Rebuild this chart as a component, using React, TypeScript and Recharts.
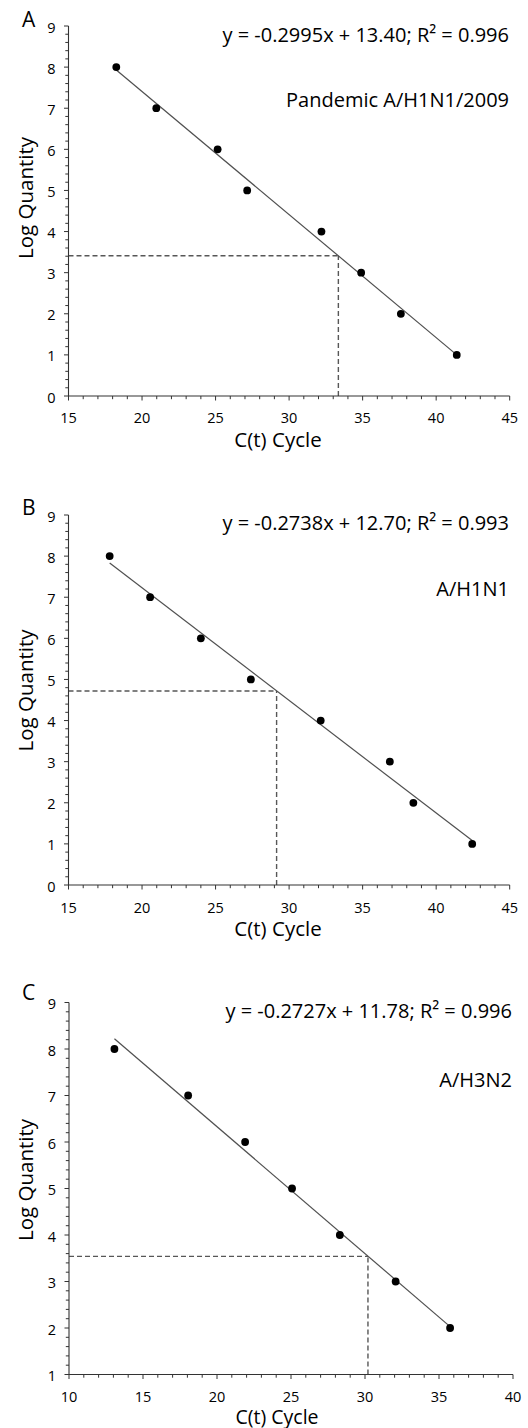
import React from 'react';
import { ScatterChart, Scatter, XAxis, YAxis, ReferenceLine } from 'recharts';

// ---------- DATA ----------
// Panel A: Pandemic A/H1N1/2009
const ctA = [18.25, 20.97, 25.14, 27.15, 32.2, 34.9, 37.6, 41.4];
const logQA = [8, 7, 6, 5, 4, 3, 2, 1];
const fitXA = [18.25, 41.4];
const fitYA = [7.93, 1.0];
const unknownA = [33.35, 3.41]; // [ct, logQ]

// Panel B: A/H1N1
const ctB = [17.8, 20.55, 24.0, 27.4, 32.15, 36.85, 38.45, 42.45];
const logQB = [8, 7, 6, 5, 4, 3, 2, 1];
const fitXB = [17.8, 42.45];
const fitYB = [7.83, 1.08];
const unknownB = [29.15, 4.72];

// Panel C: A/H3N2
const ctC = [13.07, 18.05, 21.9, 25.07, 28.3, 32.07, 35.75];
const logQC = [8, 7, 6, 5, 4, 3, 2];
const fitXC = [13.07, 35.75];
const fitYC = [8.22, 2.03];
const unknownC = [30.2, 3.54];

const letters = ['A', 'B', 'C'];
const equations = [
  'y = -0.2995x + 13.40; R\u00B2 = 0.996',
  'y = -0.2738x + 12.70; R\u00B2 = 0.993',
  'y = -0.2727x + 11.78; R\u00B2 = 0.996',
];
const strains = ['Pandemic A/H1N1/2009', 'A/H1N1', 'A/H3N2'];
const xTitle = 'C(t) Cycle';
const yTitle = 'Log Quantity';

const xDomainAB = [15, 45];
const yDomainAB = [0, 9];
const xDomainC = [10, 40];
const yDomainC = [1, 9];

const range = (a: number, b: number, step: number) => {
  const out: number[] = [];
  const n = Math.round((b - a) / step);
  for (let i = 0; i <= n; i++) out.push(Math.round((a + i * step) * 100) / 100);
  return out;
};

// ---------- STYLE ----------
const FONT = '"Open Sans", "Noto Sans", sans-serif';
const AXIS = '#333333';
const TEXT = '#000000';

const XTick = (props: any) => {
  const { x, y, payload, labelDy } = props;
  const v = payload.value;
  const major = Math.abs(v % 5) < 1e-6;
  return (
    <g>
      <line x1={x} x2={x} y1={y} y2={y + (major ? 4.5 : 3.2)} stroke={AXIS} strokeWidth={1} />
      {major && (
        <text x={x} y={y + labelDy} textAnchor="middle" fontFamily={FONT} fontSize={14.5} fill={TEXT}>
          {v}
        </text>
      )}
    </g>
  );
};

const YTick = (props: any) => {
  const { x, y, payload } = props;
  const v = payload.value;
  const major = Math.abs(v - Math.round(v)) < 1e-6;
  return (
    <g>
      <line x1={x} x2={x - (major ? 4.5 : 3.2)} y1={y} y2={y} stroke={AXIS} strokeWidth={1} />
      {major && (
        <text x={x - 13} y={y + 6.5} textAnchor="end" fontFamily={FONT} fontSize={14.5} fill={TEXT}>
          {v}
        </text>
      )}
    </g>
  );
};

const Dot = (props: any) => <circle cx={props.cx} cy={props.cy} r={3.9} fill="#000" />;
const NoDot = () => <g />;

type PanelProps = {
  ct: number[];
  logQ: number[];
  fitX: number[];
  fitY: number[];
  unknown: number[];
  xDomain: number[];
  yDomain: number[];
  top: number;
  height: number;
  margin: { top: number; right: number; bottom: number; left: number };
  yAxisWidth: number;
  xAxisHeight: number;
  labelDy: number;
};

const Panel = (p: PanelProps) => {
  const points = p.ct.map((c, i) => ({ x: c, y: p.logQ[i] }));
  const fit = p.fitX.map((c, i) => ({ x: c, y: p.fitY[i] }));
  const [ux, uy] = p.unknown;
  return (
    <div style={{ position: 'absolute', left: 0, top: p.top, width: 528, height: p.height }}>
      <ScatterChart width={528} height={p.height} margin={p.margin}>
        <XAxis
          type="number"
          dataKey="x"
          domain={p.xDomain}
          ticks={range(p.xDomain[0], p.xDomain[1], 1)}
          interval={0}
          tickSize={0}
          tickMargin={0}
          tickLine={false}
          axisLine={{ stroke: AXIS, strokeWidth: 1.1 }}
          height={p.xAxisHeight}
          tick={<XTick labelDy={p.labelDy} />}
          allowDataOverflow
        />
        <YAxis
          type="number"
          dataKey="y"
          domain={p.yDomain}
          ticks={range(p.yDomain[0], p.yDomain[1], 0.2)}
          interval={0}
          tickSize={0}
          tickMargin={0}
          tickLine={false}
          axisLine={{ stroke: AXIS, strokeWidth: 1.1 }}
          width={p.yAxisWidth}
          tick={<YTick />}
          allowDataOverflow
        />
        <ReferenceLine
          segment={[{ x: p.xDomain[0], y: uy }, { x: ux, y: uy }]}
          stroke="#575757"
          strokeWidth={1.4}
          strokeDasharray="5 3"
        />
        <ReferenceLine
          segment={[{ x: ux, y: p.yDomain[0] }, { x: ux, y: uy }]}
          stroke="#575757"
          strokeWidth={1.4}
          strokeDasharray="5 3"
        />
        <Scatter
          data={fit}
          line={{ stroke: '#505050', strokeWidth: 1.2 }}
          shape={<NoDot />}
          isAnimationActive={false}
        />
        <Scatter data={points} shape={<Dot />} isAnimationActive={false} />
      </ScatterChart>
    </div>
  );
};

const panelTops = [0, 488.5, 976];

export default function App() {
  const tA = panelTops[0];
  const tB = panelTops[1];
  const tC = panelTops[2];
  const txt = { fontFamily: FONT, fill: TEXT } as const;
  return (
    <div style={{ position: 'absolute', left: 0, top: 0, width: 528, height: 1428, background: '#fff', overflow: 'hidden' }}>
      <Panel
        ct={ctA} logQ={logQA} fitX={fitXA} fitY={fitYA} unknown={unknownA}
        xDomain={xDomainAB} yDomain={yDomainAB}
        top={tA} height={476}
        margin={{ top: 26, right: 18.3, bottom: 20, left: 0 }}
        yAxisWidth={68.5} xAxisHeight={60} labelDy={27}
      />
      <Panel
        ct={ctB} logQ={logQB} fitX={fitXB} fitY={fitYB} unknown={unknownB}
        xDomain={xDomainAB} yDomain={yDomainAB}
        top={tB} height={476}
        margin={{ top: 26, right: 18.3, bottom: 20, left: 0 }}
        yAxisWidth={68.5} xAxisHeight={60} labelDy={27.5}
      />
      <Panel
        ct={ctC} logQ={logQC} fitX={fitXC} fitY={fitYC} unknown={unknownC}
        xDomain={xDomainC} yDomain={yDomainC}
        top={tC} height={452}
        margin={{ top: 26.5, right: 15, bottom: 0, left: 0 }}
        yAxisWidth={69} xAxisHeight={53.5} labelDy={27}
      />
      <svg width={528} height={1428} style={{ position: 'absolute', left: 0, top: 0, pointerEvents: 'none' }}>
        {/* Panel A */}
        <text x={22} y={tA + 27} fontSize={21} {...txt}>{letters[0]}</text>
        <text x={509} y={tA + 41.5} fontSize={20} textAnchor="end" {...txt}>{equations[0]}</text>
        <text x={509} y={tA + 106.5} fontSize={20} textAnchor="end" {...txt}>{strains[0]}</text>
        <text x={278} y={tA + 447} fontSize={20.5} textAnchor="middle" {...txt}>{xTitle}</text>
        <text x={33} y={tA + 198} fontSize={20.5} textAnchor="middle" transform={`rotate(-90 33 ${tA + 198})`} {...txt}>{yTitle}</text>
        {/* Panel B */}
        <text x={22} y={tB + 26} fontSize={21} {...txt}>{letters[1]}</text>
        <text x={509} y={tB + 41.5} fontSize={20} textAnchor="end" {...txt}>{equations[1]}</text>
        <text x={509} y={tB + 107} fontSize={20} textAnchor="end" {...txt}>{strains[1]}</text>
        <text x={278} y={tB + 447} fontSize={20.5} textAnchor="middle" {...txt}>{xTitle}</text>
        <text x={33} y={tB + 202} fontSize={20.5} textAnchor="middle" transform={`rotate(-90 33 ${tB + 202})`} {...txt}>{yTitle}</text>
        {/* Panel C */}
        <text x={22} y={tC + 24} fontSize={21} {...txt}>{letters[2]}</text>
        <text x={512} y={tC + 42} fontSize={20} textAnchor="end" {...txt}>{equations[2]}</text>
        <text x={512} y={tC + 111} fontSize={20} textAnchor="end" {...txt}>{strains[2]}</text>
        <text x={277} y={tC + 447.5} fontSize={19.5} textAnchor="middle" {...txt}>{xTitle}</text>
        <text x={33} y={tC + 204} fontSize={20.5} textAnchor="middle" transform={`rotate(-90 33 ${tC + 204})`} {...txt}>{yTitle}</text>
      </svg>
    </div>
  );
}
